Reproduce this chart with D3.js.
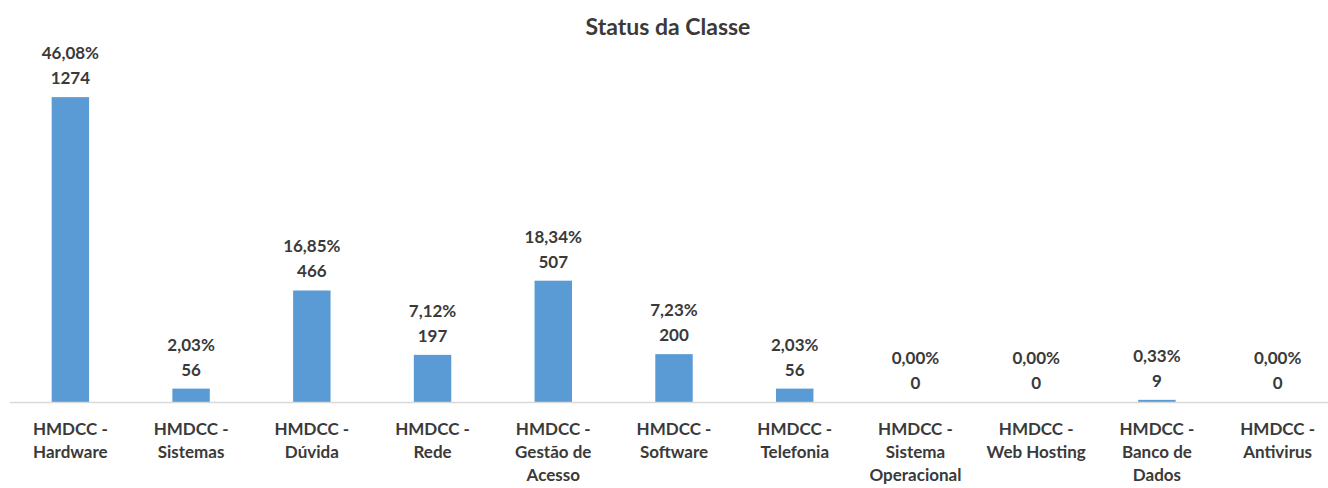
<!DOCTYPE html>
<html>
<head>
<meta charset="utf-8">
<script src="https://cdn.jsdelivr.net/npm/d3@7"></script>
<style>
  html, body { margin: 0; padding: 0; background: #fff; }
  svg { display: block; }
  text { font-family: Lato, "Open Sans", sans-serif; font-weight: bold; fill: #3a3a3a; }
</style>
</head>
<body>
<svg id="chart" width="1328" height="488"></svg>
<script>
// Ticket count per class
const categories = [
  "HMDCC -\nHardware",
  "HMDCC -\nSistemas",
  "HMDCC -\nDúvida",
  "HMDCC -\nRede",
  "HMDCC -\nGestão de\nAcesso",
  "HMDCC -\nSoftware",
  "HMDCC -\nTelefonia",
  "HMDCC -\nSistema\nOperacional",
  "HMDCC -\nWeb Hosting",
  "HMDCC -\nBanco de\nDados",
  "HMDCC -\nAntivirus"
];
const counts = [1274, 56, 466, 197, 507, 200, 56, 0, 0, 9, 0];
const percentLabels = ["46,08%", "2,03%", "16,85%", "7,12%", "18,34%", "7,23%", "2,03%", "0,00%", "0,00%", "0,33%", "0,00%"];
const title = "Status da Classe";

const data = categories.map((c, i) => ({ cat: c, value: counts[i], pct: percentLabels[i] }));

const svg = d3.select("#chart");
const W = 1328, H = 488;
const baseY = 402;

const x = d3.scaleBand()
  .domain(categories)
  .range([10, 1338])
  .paddingInner(0.69)
  .paddingOuter(0.345);

const y = d3.scaleLinear()
  .domain([0, 1400])
  .range([baseY, 67]);

// Title
svg.append("text")
  .attr("x", 668)
  .attr("y", 35)
  .attr("text-anchor", "middle")
  .style("font-size", "23px")
  .text(title);

// Bars
svg.append("g")
  .selectAll("rect")
  .data(data.filter(d => d.value > 0))
  .join("rect")
  .attr("x", d => x(d.cat))
  .attr("y", d => y(d.value))
  .attr("width", x.bandwidth())
  .attr("height", d => baseY - y(d.value))
  .attr("fill", "#5B9BD5");

// Category axis line
svg.append("line")
  .attr("x1", 10).attr("x2", W)
  .attr("y1", baseY + 0.5).attr("y2", baseY + 0.5)
  .attr("stroke", "#D9D9D9")
  .attr("stroke-width", 1.5);

// Data labels: percentage above count
const labels = svg.append("g")
  .selectAll("g")
  .data(data)
  .join("g")
  .attr("transform", d => `translate(${x(d.cat) + x.bandwidth() / 2},${y(d.value)})`);

labels.append("text")
  .attr("y", -38)
  .attr("text-anchor", "middle")
  .style("font-size", "17px")
  .text(d => d.pct);

labels.append("text")
  .attr("y", -13)
  .attr("text-anchor", "middle")
  .style("font-size", "17px")
  .text(d => d.value);

// Category labels
const ticks = svg.append("g")
  .selectAll("text")
  .data(categories)
  .join("text")
  .attr("text-anchor", "middle")
  .attr("x", d => x(d) + x.bandwidth() / 2)
  .attr("y", 435)
  .style("font-size", "17px");

ticks.selectAll("tspan")
  .data(d => d.split("\n"))
  .join("tspan")
  .attr("x", function () { return d3.select(this.parentNode).attr("x"); })
  .attr("dy", (d, i) => i === 0 ? 0 : 23)
  .text(d => d);
</script>
</body>
</html>
